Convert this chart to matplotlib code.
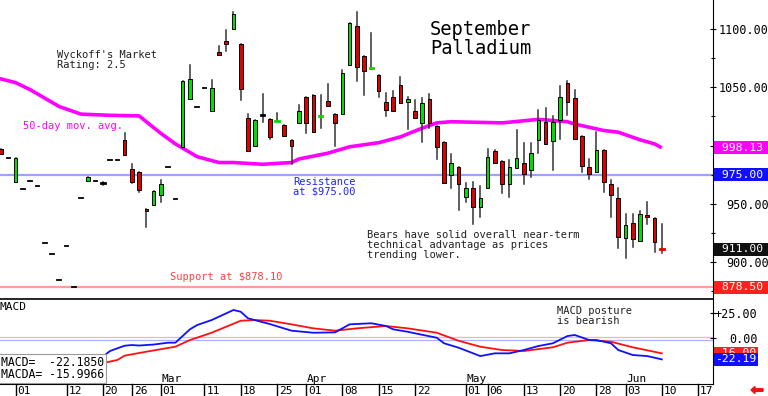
import matplotlib
matplotlib.use("Agg")
import matplotlib.pyplot as plt
import matplotlib.transforms as mtransforms
from matplotlib.patches import Rectangle, FancyArrow
from matplotlib.ticker import MultipleLocator

plt.rcParams['font.family'] = 'DejaVu Sans Mono'

# trading-day index, 0 = Feb 01
day_idx = list(range(-2, 90))
opens = [997, 989.5, 968.5, 963, 970, 965, 916.5, 907, 884.5, 914, 878.5, 955,
         970, 969.5, 968, 988, 988, 1005, 980, 977.5, 945.5, 949, 957.5, 982, 954,
         998.5, 1040, 1033, 1049.5, 1030, 1080.5, 1089.5, 1100, 1087, 1023.5, 1000,
         1026, 1023, 1021, 1017.5, 1005, 1019, 1041.5, 1043, 1025, 1038.5, 1027.5,
         1027, 1069, 1102.5, 1077, 1066, 1061, 1037.5, 1042, 1052, 1037, 1029.5,
         1019, 1040, 1017, 1003, 975, 982, 956, 963.5, 947.5, 963.5, 995.5, 987,
         967.5, 981, 985, 979, 1005, 1020.5, 1004, 1022, 1054, 1040.5, 1008, 981.5,
         977, 996, 967.5, 955.5, 921, 934, 918.5, 940.5, 937.5, 911.5]
highs = [997, 989.5, 989.5, 963, 970, 965, 916.5, 907, 884.5, 914, 878.5, 955,
         973, 969.5, 968.5, 988, 988, 1011, 984, 977.5, 945.5, 961, 970.5, 982, 954,
         1055.5, 1069.5, 1033, 1049.5, 1056, 1085.5, 1099.5, 1114.5, 1087, 1027, 1022,
         1044, 1023, 1028, 1017.5, 1005, 1034.5, 1041.5, 1043, 1043, 1052.5, 1027.5,
         1065, 1105.5, 1115, 1077, 1097, 1061, 1045, 1047, 1059, 1041.5, 1039,
         1040.5, 1044.5, 1017, 1003, 992.5, 982, 968, 968.5, 965.5, 997.5, 996, 987,
         987.5, 1013.5, 1002, 1002, 1030.5, 1032.5, 1025, 1051, 1055, 1047.5, 1008, 988.5,
         1012, 996, 970.5, 963.5, 941.5, 941, 943.5, 952, 937.5, 933]
lows = [993, 989.5, 968.5, 963, 970, 965, 916.5, 907, 884.5, 914, 878.5, 955,
        970, 969.5, 966.5, 988, 988, 992, 968, 960.5, 930.5, 949, 952, 982, 954,
        998.5, 1040, 1033, 1049.5, 1030, 1077.5, 1081.5, 1100, 1039, 995, 1000,
        1020.5, 1005.5, 1021, 1008, 984, 1019, 1011, 1011.5, 1015.5, 1034, 1000,
        1027, 1069, 1055, 1043, 1066, 1042, 1025.5, 1030, 1036.5, 1014, 1024,
        1003, 1015, 988.5, 968, 964, 945, 951.5, 932.5, 939, 963.5, 985.5, 959,
        956, 981, 967.5, 973.5, 993.5, 1001, 979, 1005.5, 1026, 1005.5, 977, 971,
        977, 960.5, 938.5, 912, 904, 913, 918.5, 933, 909, 908]
closes = [993, 989.5, 989.5, 963, 970, 965, 916.5, 907, 884.5, 914, 878.5, 955,
          973, 969.5, 968, 988, 988, 992, 969, 962, 943.5, 961, 967, 982, 954,
          1055.5, 1057.5, 1033, 1049.5, 1049, 1077.5, 1087.5, 1113, 1048.5, 995, 1022,
          1026, 1007.5, 1021.5, 1008, 1000, 1029.5, 1019, 1011.5, 1025.5, 1034, 1019,
          1062.5, 1105.5, 1067.5, 1064, 1066.5, 1047, 1030.5, 1030, 1036.5, 1040, 1024,
          1036.5, 1019.5, 998.5, 968, 985.5, 967, 964, 947.5, 955.5, 990, 985.5, 967,
          982, 989, 975.5, 993.5, 1022, 1001, 1020.5, 1042, 1037, 1005.5, 982.5, 975.5,
          996, 969, 957.5, 921.5, 931.5, 920, 941, 938.5, 917.5, 911]

# 50-day moving average
ma_idx = [-2.2, 0, 2, 6, 9, 13, 17, 20, 22, 25, 28, 30, 34, 38, 39, 43, 46, 50,
          53, 56, 58, 60, 67, 72, 76, 77, 81, 83, 86, 88, 89]
ma_val = [1057.5, 1054, 1048, 1033.5, 1027, 1026, 1025.5, 1010.5, 1001.5, 990.5,
          985.5, 985.5, 984, 985.5, 988.5, 993.5, 999, 1002.5, 1007.5, 1015, 1019.5,
          1020.5, 1019.5, 1022.5, 1020.5, 1018.5, 1013, 1011.5, 1005, 1001.5, 998.13]

# MACD (blue) and signal (red)
macd_idx = [8, 10, 12, 13, 15, 16, 17, 19, 21, 22, 24, 25, 27, 30, 31, 32, 35, 38,
            41, 44, 46, 49, 51, 52, 54, 55, 58, 59, 61, 64, 66, 68, 70, 72, 74, 76,
            77, 79, 80, 82, 83, 85, 87, 89]
macd_val = [-30, -25, -19.5, -13.6, -8.2, -7.5, -8.0, -7.0, -5.1, -5.1, 8.6, 13,
            18.1, 28.4, 26.6, 19.9, 14, 7.2, 5.1, 5.5, 13.7, 14.8, 12, 8.6, 6.1, 4.5,
            0, -5.7, -10.2, -18.8, -16, -16, -12.6, -8.5, -5.7, 1.7, 2.8, -2.4, -2.4,
            -5.7, -12.6, -17.7, -18.8, -22.19]
sig_idx = [10, 12, 14, 15, 18, 22, 24, 27, 31, 33, 35, 38, 41, 44, 47, 51, 54, 58,
           61, 64, 67, 70, 74, 76, 79, 82, 85, 89]
sig_val = [-30, -26, -22.8, -18.4, -14.3, -9.2, -2.4, 5.1, 17.4, 18.1, 17.4, 13.7,
           9.6, 7.2, 9.6, 12, 9.6, 5.1, -3.1, -9.2, -12.6, -13.6, -9.8, -5.1, -2.4,
           -4.1, -9.8, -16.0]

date_ticks = [0, 7, 12, 16, 20, 26, 31, 36, 40, 45, 50, 55, 62, 65, 70, 75, 80, 84, 89, 94]
date_labels = ["01", "12", "20", "26", "01", "11", "18", "25", "01", "08", "15", "22",
               "01", "06", "13", "20", "28", "03", "10", "17"]
month_ticks = [20, 40, 62, 84]
month_labels = ["Mar", "Apr", "May", "Jun"]

W, H = 768, 396
fig = plt.figure(figsize=(W / 100, H / 100), dpi=100)
ax = fig.add_axes([0, (H - 298) / H, 713 / W, 298 / H])
ax2 = fig.add_axes([0, (H - 384) / H, 713 / W, 85 / H])

GREEN = "#00dd00"
RED = "#e00000"
bw = 0.5

# ---- main price panel ----
ax.axhline(975, color="#a0a0ff", lw=1.6, zorder=1)
ax.axhline(878.5, color="#ff9c9c", lw=1.6, zorder=1)
ax.plot(ma_idx, ma_val, color="#ff00ff", lw=2.6, zorder=2, solid_capstyle="butt")

for i, o, h, l, c in zip(day_idx, opens, highs, lows, closes):
    if h == l:
        ax.plot([i - bw / 2, i + bw / 2], [c, c], color="black", lw=1.3, zorder=3)
        continue
    ax.plot([i, i], [l, h], color="#333333", lw=1.1, zorder=3)
    col = GREEN if c > o else (RED if c < o else "black")
    if abs(c - o) < 1.5:
        ax.plot([i - bw / 2, i + bw / 2], [c, c], color=col, lw=2, zorder=4)
    else:
        ax.add_patch(Rectangle((i - bw / 2, min(o, c)), bw, abs(c - o),
                               facecolor=col, edgecolor="black", lw=0.7, zorder=4))

ax.set_xlim(-2.16, 96.05)
ax.set_ylim(869.3, 1124.9)
for s in ["top", "left", "bottom"]:
    ax.spines[s].set_visible(False)
ax.spines["right"].set_linewidth(0.8)
ax.set_xticks([])
ax.yaxis.tick_right()
ax.set_yticks([900, 950, 1000, 1050, 1100])
ax.set_yticklabels(["900.00", "950.00", "1000.00", "1050.00", "1100.00"])
ax.yaxis.set_minor_locator(MultipleLocator(25))
ax.tick_params(axis="y", which="major", direction="inout", length=4, width=0.8,
               labelsize=8.5, pad=38)
ax.tick_params(axis="y", which="minor", direction="inout", length=3, width=0.8)
for lbl in ax.get_yticklabels():
    lbl.set_horizontalalignment("right")

vtrans = mtransforms.blended_transform_factory(ax.transAxes, ax.transData)


def value_box(a, trans, y, txt, fc, x=1.003):
    a.text(x, y, txt, transform=trans, ha="left", va="center", color="white",
           fontsize=8.2, clip_on=False, zorder=10,
           bbox=dict(boxstyle="square,pad=0.12", facecolor=fc, edgecolor="none"))


value_box(ax, vtrans, 998.13, " 998.13 ", "#ff00ff")
value_box(ax, vtrans, 975.0, " 975.00 ", "#1010ff")
value_box(ax, vtrans, 911.0, " 911.00 ", "#101010")
value_box(ax, vtrans, 878.5, " 878.50 ", "#ff2020")


def ftext(x, y, s, **kw):
    fig.text(x / W, 1 - y / H, s, **kw)


ftext(57, 50, "Wyckoff's Market\nRating: 2.5", fontsize=7.5, va="top",
      linespacing=1.0, color="#202020")
ftext(430, 20, "September\nPalladium", fontsize=13.5, va="top", linespacing=1.0,
      color="black")
ftext(23, 126, "50-day mov. avg.", fontsize=7.5, va="center", color="#ff00ff")
ftext(293, 177, "Resistance\nat $975.00", fontsize=7.5, va="top", linespacing=0.95,
      color="#2020ff")
ftext(170, 277, "Support at $878.10", fontsize=7.5, va="center", color="#ff4040")
ftext(367, 230, "Bears have solid overall near-term\ntechnical advantage as prices\n"
      "trending lower.", fontsize=7.5, va="top", linespacing=1.0, color="#202020")

# ---- MACD panel ----
ax2.axhline(1.0, color="#ffb0b0", lw=0.9, zorder=1)
ax2.axhline(-2.4, color="#b0b0ff", lw=0.9, zorder=1)
ax2.plot(sig_idx, sig_val, color="#ff1010", lw=1.3, zorder=2)
ax2.plot(macd_idx, macd_val, color="#1010ff", lw=1.3, zorder=3)
ax2.set_xlim(-2.16, 96.05)
ax2.set_ylim(-47.4, 39.65)
ax2.spines["left"].set_visible(False)
ax2.spines["top"].set_linewidth(1.2)
ax2.spines["right"].set_linewidth(0.8)
ax2.spines["bottom"].set_linewidth(0.8)
ax2.set_xticks([])
ax2.yaxis.tick_right()
ax2.set_yticks([0, 25])
ax2.set_yticklabels(["0.00", "+25.00"])
ax2.tick_params(axis="y", direction="inout", length=4, width=0.8, labelsize=8.5, pad=30)
for lbl in ax2.get_yticklabels():
    lbl.set_horizontalalignment("right")

mtrans = mtransforms.blended_transform_factory(ax2.transAxes, ax2.transData)
value_box(ax2, mtrans, -16.0, "-16.00", "#ff2020")
value_box(ax2, mtrans, -22.19, "-22.19", "#1010ff")

ax2.text(0.0, 0.96, "MACD", transform=ax2.transAxes, ha="left", va="top",
         fontsize=8, color="black")
ax2.text(0.781, 0.92, "MACD posture\nis bearish", transform=ax2.transAxes, ha="left",
         va="top", fontsize=7.5, linespacing=1.0, color="#202020")
ax2.text(0.001, 0.03, "MACD=  -22.1850\nMACDA= -15.9966", transform=ax2.transAxes,
         ha="left", va="bottom", fontsize=8.3, linespacing=0.95, zorder=10,
         bbox=dict(boxstyle="square,pad=0.15", facecolor="white", edgecolor="#999999",
                   lw=0.8))

dtrans = mtransforms.blended_transform_factory(ax2.transData, ax2.transAxes)
for t, lab in zip(month_ticks, month_labels):
    ax2.text(t + 0.1, 0.06, lab, transform=dtrans, ha="left", va="center",
             fontsize=8, color="black")
for t, lab in zip(date_ticks, date_labels):
    ax2.plot([t, t], [0, -0.15], transform=dtrans, color="black", lw=1.0,
             clip_on=False)
    ax2.text(t + 0.25, -0.08, lab, transform=dtrans, ha="left", va="center",
             fontsize=8, color="black", clip_on=False)

fig.patches.append(FancyArrow(7.63, 0.06, -0.08, 0, width=0.025, head_width=0.07,
                              head_length=0.04, color="#ee1111",
                              transform=fig.dpi_scale_trans, figure=fig))

fig.savefig("out.png", dpi=100)
